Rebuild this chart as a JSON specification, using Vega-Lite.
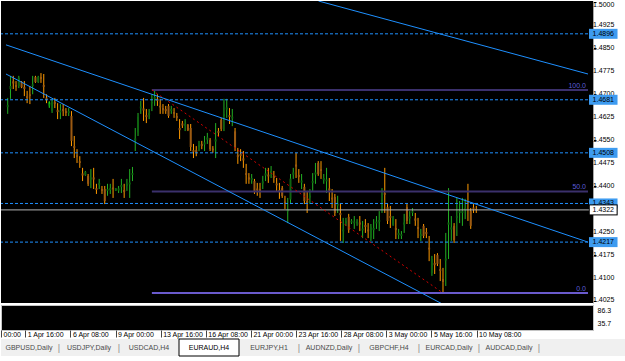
{
"$schema": "https://vega.github.io/schema/vega-lite/v6.json",
"background": "white",
"padding": 0,
"config": {"view": {"stroke": null}, "axis": {"labelFont": "Liberation Sans", "labelFontSize": 7, "labelColor": "black", "grid": false}, "text": {"font": "Liberation Sans"}},
"datasets": {
"candles": [
{"i":0,"o":1.4657,"h":1.4687,"l":1.4635,"c":1.4664},
{"i":1,"o":1.4716,"h":1.4759,"l":1.4684,"c":1.4726},
{"i":2,"o":1.4741,"h":1.4759,"l":1.4716,"c":1.4734},
{"i":3,"o":1.4729,"h":1.4742,"l":1.4710,"c":1.4722},
{"i":4,"o":1.4725,"h":1.4759,"l":1.4719,"c":1.4753},
{"i":5,"o":1.4739,"h":1.4742,"l":1.4719,"c":1.4722},
{"i":6,"o":1.4723,"h":1.4742,"l":1.4693,"c":1.4716},
{"i":7,"o":1.4693,"h":1.4710,"l":1.4670,"c":1.4687},
{"i":8,"o":1.4699,"h":1.4726,"l":1.4667,"c":1.4693},
{"i":9,"o":1.4726,"h":1.4759,"l":1.4699,"c":1.4732},
{"i":10,"o":1.4755,"h":1.4759,"l":1.4736,"c":1.4739},
{"i":11,"o":1.4739,"h":1.4759,"l":1.4736,"c":1.4755},
{"i":12,"o":1.4755,"h":1.4768,"l":1.4736,"c":1.4749},
{"i":13,"o":1.4729,"h":1.4765,"l":1.4687,"c":1.4723},
{"i":14,"o":1.4688,"h":1.4699,"l":1.4670,"c":1.4682},
{"i":15,"o":1.4662,"h":1.4677,"l":1.4654,"c":1.4669},
{"i":16,"o":1.4644,"h":1.4684,"l":1.4638,"c":1.4677},
{"i":17,"o":1.4674,"h":1.4687,"l":1.4654,"c":1.4667},
{"i":18,"o":1.4648,"h":1.4670,"l":1.4618,"c":1.4641},
{"i":19,"o":1.4640,"h":1.4667,"l":1.4618,"c":1.4646},
{"i":20,"o":1.4651,"h":1.4667,"l":1.4628,"c":1.4644},
{"i":21,"o":1.4644,"h":1.4654,"l":1.4628,"c":1.4638},
{"i":22,"o":1.4638,"h":1.4654,"l":1.4628,"c":1.4644},
{"i":23,"o":1.4628,"h":1.4644,"l":1.4530,"c":1.4547},
{"i":24,"o":1.4530,"h":1.4563,"l":1.4491,"c":1.4524},
{"i":25,"o":1.4500,"h":1.4520,"l":1.4475,"c":1.4495},
{"i":26,"o":1.4481,"h":1.4497,"l":1.4459,"c":1.4475},
{"i":27,"o":1.4441,"h":1.4459,"l":1.4416,"c":1.4434},
{"i":28,"o":1.4436,"h":1.4449,"l":1.4433,"c":1.4446},
{"i":29,"o":1.4433,"h":1.4439,"l":1.4400,"c":1.4407},
{"i":30,"o":1.4421,"h":1.4455,"l":1.4393,"c":1.4428},
{"i":31,"o":1.4428,"h":1.4459,"l":1.4390,"c":1.4421},
{"i":32,"o":1.4393,"h":1.4407,"l":1.4374,"c":1.4387},
{"i":33,"o":1.4403,"h":1.4423,"l":1.4390,"c":1.4410},
{"i":34,"o":1.4390,"h":1.4400,"l":1.4374,"c":1.4384},
{"i":35,"o":1.4390,"h":1.4400,"l":1.4341,"c":1.4351},
{"i":36,"o":1.4384,"h":1.4407,"l":1.4368,"c":1.4390},
{"i":37,"o":1.4387,"h":1.4407,"l":1.4374,"c":1.4393},
{"i":38,"o":1.4395,"h":1.4423,"l":1.4361,"c":1.4389},
{"i":39,"o":1.4385,"h":1.4393,"l":1.4384,"c":1.4392},
{"i":40,"o":1.4385,"h":1.4400,"l":1.4377,"c":1.4392},
{"i":41,"o":1.4397,"h":1.4423,"l":1.4377,"c":1.4403},
{"i":42,"o":1.4387,"h":1.4407,"l":1.4361,"c":1.4380},
{"i":43,"o":1.4400,"h":1.4423,"l":1.4384,"c":1.4407},
{"i":44,"o":1.4405,"h":1.4455,"l":1.4361,"c":1.4411},
{"i":45,"o":1.4436,"h":1.4462,"l":1.4416,"c":1.4442},
{"i":46,"o":1.4548,"h":1.4589,"l":1.4514,"c":1.4555},
{"i":47,"o":1.4574,"h":1.4638,"l":1.4563,"c":1.4626},
{"i":48,"o":1.4653,"h":1.4677,"l":1.4635,"c":1.4659},
{"i":49,"o":1.4653,"h":1.4687,"l":1.4612,"c":1.4646},
{"i":50,"o":1.4631,"h":1.4651,"l":1.4605,"c":1.4625},
{"i":51,"o":1.4631,"h":1.4651,"l":1.4618,"c":1.4638},
{"i":52,"o":1.4669,"h":1.4699,"l":1.4644,"c":1.4675},
{"i":53,"o":1.4684,"h":1.4713,"l":1.4661,"c":1.4690},
{"i":54,"o":1.4684,"h":1.4699,"l":1.4661,"c":1.4677},
{"i":55,"o":1.4662,"h":1.4684,"l":1.4635,"c":1.4656},
{"i":56,"o":1.4654,"h":1.4667,"l":1.4635,"c":1.4648},
{"i":57,"o":1.4651,"h":1.4661,"l":1.4635,"c":1.4644},
{"i":58,"o":1.4661,"h":1.4667,"l":1.4622,"c":1.4628},
{"i":59,"o":1.4644,"h":1.4661,"l":1.4635,"c":1.4651},
{"i":60,"o":1.4641,"h":1.4654,"l":1.4622,"c":1.4635},
{"i":61,"o":1.4628,"h":1.4638,"l":1.4612,"c":1.4622},
{"i":62,"o":1.4589,"h":1.4618,"l":1.4553,"c":1.4582},
{"i":63,"o":1.4604,"h":1.4612,"l":1.4589,"c":1.4597},
{"i":64,"o":1.4595,"h":1.4618,"l":1.4579,"c":1.4602},
{"i":65,"o":1.4599,"h":1.4602,"l":1.4579,"c":1.4582},
{"i":66,"o":1.4589,"h":1.4602,"l":1.4514,"c":1.4527},
{"i":67,"o":1.4517,"h":1.4537,"l":1.4491,"c":1.4511},
{"i":68,"o":1.4517,"h":1.4530,"l":1.4497,"c":1.4511},
{"i":69,"o":1.4527,"h":1.4547,"l":1.4514,"c":1.4534},
{"i":70,"o":1.4537,"h":1.4547,"l":1.4520,"c":1.4530},
{"i":71,"o":1.4535,"h":1.4563,"l":1.4514,"c":1.4542},
{"i":72,"o":1.4551,"h":1.4573,"l":1.4537,"c":1.4558},
{"i":73,"o":1.4550,"h":1.4556,"l":1.4514,"c":1.4520},
{"i":74,"o":1.4522,"h":1.4530,"l":1.4508,"c":1.4516},
{"i":75,"o":1.4545,"h":1.4605,"l":1.4491,"c":1.4552},
{"i":76,"o":1.4579,"h":1.4589,"l":1.4563,"c":1.4573},
{"i":77,"o":1.4615,"h":1.4622,"l":1.4579,"c":1.4586},
{"i":78,"o":1.4628,"h":1.4684,"l":1.4579,"c":1.4635},
{"i":79,"o":1.4649,"h":1.4684,"l":1.4622,"c":1.4656},
{"i":80,"o":1.4631,"h":1.4654,"l":1.4602,"c":1.4625},
{"i":81,"o":1.4620,"h":1.4651,"l":1.4595,"c":1.4626},
{"i":82,"o":1.4578,"h":1.4589,"l":1.4514,"c":1.4525},
{"i":83,"o":1.4501,"h":1.4524,"l":1.4472,"c":1.4494},
{"i":84,"o":1.4504,"h":1.4520,"l":1.4481,"c":1.4498},
{"i":85,"o":1.4490,"h":1.4514,"l":1.4459,"c":1.4483},
{"i":86,"o":1.4442,"h":1.4472,"l":1.4407,"c":1.4436},
{"i":87,"o":1.4428,"h":1.4442,"l":1.4407,"c":1.4421},
{"i":88,"o":1.4419,"h":1.4439,"l":1.4407,"c":1.4426},
{"i":89,"o":1.4416,"h":1.4423,"l":1.4374,"c":1.4380},
{"i":90,"o":1.4392,"h":1.4410,"l":1.4368,"c":1.4385},
{"i":91,"o":1.4389,"h":1.4410,"l":1.4361,"c":1.4382},
{"i":92,"o":1.4408,"h":1.4433,"l":1.4390,"c":1.4415},
{"i":93,"o":1.4434,"h":1.4459,"l":1.4416,"c":1.4441},
{"i":94,"o":1.4437,"h":1.4459,"l":1.4410,"c":1.4431},
{"i":95,"o":1.4442,"h":1.4465,"l":1.4426,"c":1.4449},
{"i":96,"o":1.4433,"h":1.4449,"l":1.4410,"c":1.4426},
{"i":97,"o":1.4408,"h":1.4426,"l":1.4384,"c":1.4402},
{"i":98,"o":1.4387,"h":1.4410,"l":1.4358,"c":1.4380},
{"i":99,"o":1.4393,"h":1.4400,"l":1.4361,"c":1.4367},
{"i":100,"o":1.4349,"h":1.4368,"l":1.4325,"c":1.4343},
{"i":101,"o":1.4317,"h":1.4361,"l":1.4279,"c":1.4323},
{"i":102,"o":1.4356,"h":1.4439,"l":1.4341,"c":1.4424},
{"i":103,"o":1.4437,"h":1.4459,"l":1.4423,"c":1.4444},
{"i":104,"o":1.4470,"h":1.4508,"l":1.4426,"c":1.4463},
{"i":105,"o":1.4436,"h":1.4455,"l":1.4410,"c":1.4429},
{"i":106,"o":1.4411,"h":1.4439,"l":1.4390,"c":1.4418},
{"i":107,"o":1.4397,"h":1.4407,"l":1.4341,"c":1.4351},
{"i":108,"o":1.4351,"h":1.4384,"l":1.4312,"c":1.4344},
{"i":109,"o":1.4362,"h":1.4390,"l":1.4341,"c":1.4369},
{"i":110,"o":1.4410,"h":1.4442,"l":1.4384,"c":1.4416},
{"i":111,"o":1.4437,"h":1.4475,"l":1.4407,"c":1.4444},
{"i":112,"o":1.4475,"h":1.4481,"l":1.4433,"c":1.4439},
{"i":113,"o":1.4455,"h":1.4481,"l":1.4423,"c":1.4449},
{"i":114,"o":1.4419,"h":1.4439,"l":1.4407,"c":1.4426},
{"i":115,"o":1.4415,"h":1.4459,"l":1.4377,"c":1.4421},
{"i":116,"o":1.4392,"h":1.4426,"l":1.4351,"c":1.4385},
{"i":117,"o":1.4362,"h":1.4390,"l":1.4328,"c":1.4356},
{"i":118,"o":1.4364,"h":1.4374,"l":1.4302,"c":1.4312},
{"i":119,"o":1.4336,"h":1.4368,"l":1.4312,"c":1.4343},
{"i":120,"o":1.4312,"h":1.4344,"l":1.4221,"c":1.4305},
{"i":121,"o":1.4252,"h":1.4296,"l":1.4214,"c":1.4258},
{"i":122,"o":1.4279,"h":1.4296,"l":1.4270,"c":1.4286},
{"i":123,"o":1.4299,"h":1.4309,"l":1.4247,"c":1.4257},
{"i":124,"o":1.4281,"h":1.4292,"l":1.4276,"c":1.4287},
{"i":125,"o":1.4278,"h":1.4302,"l":1.4260,"c":1.4284},
{"i":126,"o":1.4278,"h":1.4292,"l":1.4270,"c":1.4284},
{"i":127,"o":1.4281,"h":1.4302,"l":1.4253,"c":1.4274},
{"i":128,"o":1.4255,"h":1.4286,"l":1.4230,"c":1.4261},
{"i":129,"o":1.4273,"h":1.4292,"l":1.4247,"c":1.4266},
{"i":130,"o":1.4258,"h":1.4279,"l":1.4230,"c":1.4252},
{"i":131,"o":1.4229,"h":1.4276,"l":1.4221,"c":1.4268},
{"i":132,"o":1.4256,"h":1.4292,"l":1.4227,"c":1.4263},
{"i":133,"o":1.4278,"h":1.4302,"l":1.4260,"c":1.4284},
{"i":134,"o":1.4283,"h":1.4318,"l":1.4253,"c":1.4289},
{"i":135,"o":1.4349,"h":1.4393,"l":1.4312,"c":1.4356},
{"i":136,"o":1.4377,"h":1.4459,"l":1.4312,"c":1.4371},
{"i":137,"o":1.4331,"h":1.4341,"l":1.4276,"c":1.4286},
{"i":138,"o":1.4302,"h":1.4335,"l":1.4263,"c":1.4296},
{"i":139,"o":1.4274,"h":1.4302,"l":1.4270,"c":1.4297},
{"i":140,"o":1.4263,"h":1.4292,"l":1.4227,"c":1.4256},
{"i":141,"o":1.4240,"h":1.4260,"l":1.4227,"c":1.4247},
{"i":142,"o":1.4237,"h":1.4253,"l":1.4227,"c":1.4243},
{"i":143,"o":1.4274,"h":1.4309,"l":1.4247,"c":1.4281},
{"i":144,"o":1.4331,"h":1.4341,"l":1.4276,"c":1.4286},
{"i":145,"o":1.4294,"h":1.4318,"l":1.4276,"c":1.4300},
{"i":146,"o":1.4312,"h":1.4328,"l":1.4302,"c":1.4318},
{"i":147,"o":1.4294,"h":1.4312,"l":1.4270,"c":1.4287},
{"i":148,"o":1.4266,"h":1.4296,"l":1.4230,"c":1.4260},
{"i":149,"o":1.4237,"h":1.4260,"l":1.4221,"c":1.4243},
{"i":150,"o":1.4270,"h":1.4276,"l":1.4230,"c":1.4237},
{"i":151,"o":1.4250,"h":1.4263,"l":1.4230,"c":1.4243},
{"i":152,"o":1.4199,"h":1.4237,"l":1.4155,"c":1.4193},
{"i":153,"o":1.4116,"h":1.4172,"l":1.4107,"c":1.4162},
{"i":154,"o":1.4149,"h":1.4178,"l":1.4113,"c":1.4142},
{"i":155,"o":1.4175,"h":1.4181,"l":1.4139,"c":1.4146},
{"i":156,"o":1.4129,"h":1.4162,"l":1.4090,"c":1.4123},
{"i":157,"o":1.4097,"h":1.4133,"l":1.4051,"c":1.4087},
{"i":158,"o":1.4157,"h":1.4247,"l":1.4074,"c":1.4164},
{"i":159,"o":1.4274,"h":1.4393,"l":1.4162,"c":1.4281},
{"i":160,"o":1.4258,"h":1.4302,"l":1.4221,"c":1.4265},
{"i":161,"o":1.4270,"h":1.4279,"l":1.4214,"c":1.4224},
{"i":162,"o":1.4296,"h":1.4361,"l":1.4237,"c":1.4302},
{"i":163,"o":1.4312,"h":1.4351,"l":1.4279,"c":1.4318},
{"i":164,"o":1.4312,"h":1.4361,"l":1.4270,"c":1.4318},
{"i":165,"o":1.4322,"h":1.4358,"l":1.4292,"c":1.4328},
{"i":166,"o":1.4349,"h":1.4407,"l":1.4286,"c":1.4343},
{"i":167,"o":1.4318,"h":1.4328,"l":1.4260,"c":1.4270},
{"i":168,"o":1.4330,"h":1.4341,"l":1.4312,"c":1.4323},
{"i":169,"o":1.4325,"h":1.4335,"l":1.4312,"c":1.4322}
],
"pticks": [{"p":1.4925,"t":"1.4925"},{"p":1.485,"t":"1.4850"},{"p":1.4775,"t":"1.4775"},{"p":1.47,"t":"1.4700"},{"p":1.4625,"t":"1.4625"},{"p":1.455,"t":"1.4550"},{"p":1.4475,"t":"1.4475"},{"p":1.44,"t":"1.4400"},{"p":1.425,"t":"1.4250"},{"p":1.4175,"t":"1.4175"},{"p":1.41,"t":"1.4100"}],
"ptop": [{"p":1.5,"t":"1.5000"}],
"pbot": [{"p":1.4025,"t":"1.4025"}],
"levels": [{"p":1.4896,"t":"1.4896"},{"p":1.4681,"t":"1.4681"},{"p":1.4508,"t":"1.4508"},{"p":1.4343,"t":"1.4343"},{"p":1.4217,"t":"1.4217"}],
"bid": [{"p":1.4322,"t":"1.4322"}],
"fibo": [{"lvl":"100.0","p":1.4713,"i0":52},{"lvl":"50.0","p":1.4382,"i0":52},{"lvl":"0.0","p":1.4051,"i0":52}],
"fibtrend": [{"i":52,"p":1.4713},{"i":157,"p":1.4051}],
"trend": [{"id":"a","i":-0.617,"p":1.486},{"id":"a","i":209.3,"p":1.4217},{"id":"b","i":-0.617,"p":1.4765},{"id":"b","i":160,"p":1.4},{"id":"c","i":112.1,"p":1.5003},{"id":"c","i":209.3,"p":1.4765}],
"arrow": [{"i":15,"p":1.4667}],
"tabs": [{"t":"GBPUSD,Daily"},{"t":"USDJPY,Daily"},{"t":"USDCAD,H4"},{"t":"EURAUD,H4"},{"t":"EURJPY,H1"},{"t":"AUDNZD,Daily"},{"t":"GBPCHF,H4"},{"t":"EURCAD,Daily"},{"t":"AUDCAD,Daily"}]
},
"spacing": 0,
"vconcat": [
{
"width": 592,
"height": 302,
"view": {"fill": "black", "stroke": null},
"layer": [
{"data": {"name": "candles"}, "mark": {"type": "rule", "strokeWidth": 1, "clip": true},
 "encoding": {
  "x": {"field": "i", "type": "quantitative", "scale": {"domain": [-0.617, 209.3], "nice": false, "zero": false}, "axis": null},
  "y": {"field": "l", "type": "quantitative", "scale": {"domain": [1.40185, 1.5003], "nice": false, "zero": false},
        "axis": {"orient": "right", "values": [1.5, 1.4925, 1.485, 1.4775, 1.47, 1.4625, 1.455, 1.4475, 1.44, 1.425, 1.4175, 1.41, 1.4025], "labels": false, "tickSize": 3, "tickColor": "black", "domainColor": "#a8a8a8", "title": null}},
  "y2": {"field": "h"},
  "color": {"condition": {"test": "datum.c >= datum.o", "value": "#23b023"}, "value": "#ff9a00"}
 }},
{"data": {"name": "candles"}, "mark": {"type": "bar", "width": 2, "clip": true},
 "encoding": {
  "x": {"field": "i", "type": "quantitative"},
  "y": {"field": "o", "type": "quantitative"},
  "y2": {"field": "c"},
  "color": {"condition": {"test": "datum.c >= datum.o", "value": "#0e6410"}, "value": "#9c5a12"}
 }},
{"data": {"name": "levels"}, "mark": {"type": "rule", "strokeDash": [3, 2], "color": "#1e90ff", "strokeWidth": 1},
 "encoding": {"y": {"field": "p", "type": "quantitative"}}},
{"data": {"name": "bid"}, "mark": {"type": "rule", "color": "#b4b4b4", "strokeWidth": 1},
 "encoding": {"y": {"field": "p", "type": "quantitative"}}},
{"data": {"name": "fibo"}, "mark": {"type": "rule", "clip": true},
 "encoding": {
  "x": {"field": "i0", "type": "quantitative"},
  "x2": {"datum": 209.3},
  "y": {"field": "p", "type": "quantitative"},
  "color": {"field": "lvl", "type": "nominal", "scale": {"domain": ["100.0", "50.0", "0.0"], "range": ["#3b306c", "#3b306c", "#6a5acd"]}, "legend": null},
  "strokeWidth": {"field": "lvl", "type": "nominal", "scale": {"domain": ["100.0", "50.0", "0.0"], "range": [2, 2, 1.2]}, "legend": null}
 }},
{"data": {"name": "fibo"}, "mark": {"type": "text", "align": "right", "baseline": "bottom", "dx": -2, "dy": -1, "fontSize": 7, "color": "#5c5cd6"},
 "encoding": {
  "x": {"datum": 209.3, "type": "quantitative"},
  "y": {"field": "p", "type": "quantitative"},
  "text": {"field": "lvl"}
 }},
{"data": {"name": "fibtrend"}, "mark": {"type": "line", "strokeDash": [2, 3], "color": "#d40000", "strokeWidth": 1},
 "encoding": {
  "x": {"field": "i", "type": "quantitative"},
  "y": {"field": "p", "type": "quantitative"}
 }},
{"data": {"name": "trend"}, "mark": {"type": "line", "color": "#1e90ff", "strokeWidth": 1, "clip": true},
 "encoding": {
  "x": {"field": "i", "type": "quantitative"},
  "y": {"field": "p", "type": "quantitative"},
  "detail": {"field": "id"}
 }},
{"data": {"name": "arrow"}, "mark": {"type": "text", "text": "↑", "fontSize": 9, "fontWeight": "bold", "color": "#00ff00"},
 "encoding": {
  "x": {"field": "i", "type": "quantitative"},
  "y": {"field": "p", "type": "quantitative"}
 }},
{"data": {"name": "pticks"}, "mark": {"type": "text", "align": "left", "baseline": "middle", "fontSize": 7, "color": "black"},
 "encoding": {
  "x": {"datum": 211.1, "type": "quantitative"},
  "y": {"field": "p", "type": "quantitative"},
  "text": {"field": "t"}
 }},
{"data": {"name": "ptop"}, "mark": {"type": "text", "align": "left", "baseline": "top", "dy": -1, "fontSize": 7, "color": "black"},
 "encoding": {
  "x": {"datum": 211.1, "type": "quantitative"},
  "y": {"field": "p", "type": "quantitative"},
  "text": {"field": "t"}
 }},
{"data": {"name": "pbot"}, "mark": {"type": "text", "align": "left", "baseline": "bottom", "dy": 2, "fontSize": 7, "color": "black"},
 "encoding": {
  "x": {"datum": 211.1, "type": "quantitative"},
  "y": {"field": "p", "type": "quantitative"},
  "text": {"field": "t"}
 }},
{"data": {"name": "levels"}, "mark": {"type": "rule", "strokeWidth": 10, "color": "#3d9bf0"},
 "encoding": {
  "x": {"datum": 209.66, "type": "quantitative"},
  "x2": {"datum": 219.95},
  "y": {"field": "p", "type": "quantitative"}
 }},
{"data": {"name": "bid"}, "mark": {"type": "rule", "strokeWidth": 11, "color": "black"},
 "encoding": {
  "x": {"datum": 209.6, "type": "quantitative"},
  "x2": {"datum": 220.0},
  "y": {"field": "p", "type": "quantitative"}
 }},
{"data": {"name": "bid"}, "mark": {"type": "rule", "strokeWidth": 9, "color": "white"},
 "encoding": {
  "x": {"datum": 209.95, "type": "quantitative"},
  "x2": {"datum": 219.62},
  "y": {"field": "p", "type": "quantitative"}
 }},
{"data": {"name": "levels"}, "mark": {"type": "text", "fontSize": 7, "color": "black"},
 "encoding": {
  "x": {"datum": 214.8, "type": "quantitative"},
  "y": {"field": "p", "type": "quantitative"},
  "text": {"field": "t"}
 }},
{"data": {"name": "bid"}, "mark": {"type": "text", "fontSize": 7, "color": "black"},
 "encoding": {
  "x": {"datum": 214.8, "type": "quantitative"},
  "y": {"field": "p", "type": "quantitative"},
  "text": {"field": "t"}
 }}
]
},
{
"width": 592,
"height": 25,
"view": {"fill": "black", "stroke": "#c4c4c4"},
"data": {"values": [{"i": 100, "v": 50}]},
"mark": {"type": "point", "opacity": 0},
"encoding": {
 "x": {"field": "i", "type": "quantitative", "scale": {"domain": [-0.617, 209.3], "nice": false, "zero": false},
       "axis": {"orient": "bottom", "values": [-0.617, 8, 24, 40, 56, 72, 88, 104, 120, 136, 152, 168],
                "labelExpr": "datum.value < 0 ? '00:00' : datum.value == 8 ? '1 Apr 16:00' : datum.value == 24 ? '6 Apr 08:00' : datum.value == 40 ? '9 Apr 00:00' : datum.value == 56 ? '13 Apr 16:00' : datum.value == 72 ? '16 Apr 08:00' : datum.value == 88 ? '21 Apr 00:00' : datum.value == 104 ? '23 Apr 16:00' : datum.value == 120 ? '28 Apr 08:00' : datum.value == 136 ? '3 May 00:00' : datum.value == 152 ? '5 May 16:00' : '10 May 08:00'",
                "labelAlign": "left", "labelOffset": 2, "labelPadding": -7, "tickSize": 7, "tickColor": "#444444", "domain": false, "title": null, "labelFlush": false, "labelOverlap": false, "labelBound": false}},
 "y": {"field": "v", "type": "quantitative", "scale": {"domain": [8.7, 108.2], "nice": false, "zero": false},
       "axis": {"orient": "right", "values": [86.3, 35.7], "format": ".1f", "ticks": false, "labelPadding": 4, "domain": false, "title": null, "labelOverlap": false}}
}
},
{
"width": 625,
"height": 17,
"view": {"fill": "#f0f0f0", "stroke": null},
"data": {"name": "tabs"},
"layer": [
{"transform": [{"filter": "datum.t == 'EURAUD,H4'"}],
 "mark": {"type": "rect", "fill": "white", "stroke": "black", "strokeWidth": 1},
 "encoding": {"x": {"field": "t", "type": "nominal", "scale": {"type": "band", "domain": ["GBPUSD,Daily","USDJPY,Daily","USDCAD,H4","EURAUD,H4","EURJPY,H1","AUDNZD,Daily","GBPCHF,H4","EURCAD,Daily","AUDCAD,Daily"], "range": [-2, 538], "paddingInner": 0, "paddingOuter": 0}, "axis": null}}},
{"mark": {"type": "text", "fontSize": 7},
 "encoding": {
  "x": {"field": "t", "type": "nominal"},
  "text": {"field": "t"},
  "color": {"condition": {"test": "datum.t == 'EURAUD,H4'", "value": "black"}, "value": "#4a4a4a"}
 }},
{"transform": [{"filter": "datum.t != 'USDCAD,H4' && datum.t != 'EURAUD,H4'"}],
 "mark": {"type": "text", "text": "|", "dx": 30, "fontSize": 9, "color": "#8c8c8c"},
 "encoding": {
  "x": {"field": "t", "type": "nominal"}
 }}
]
}
]
}
